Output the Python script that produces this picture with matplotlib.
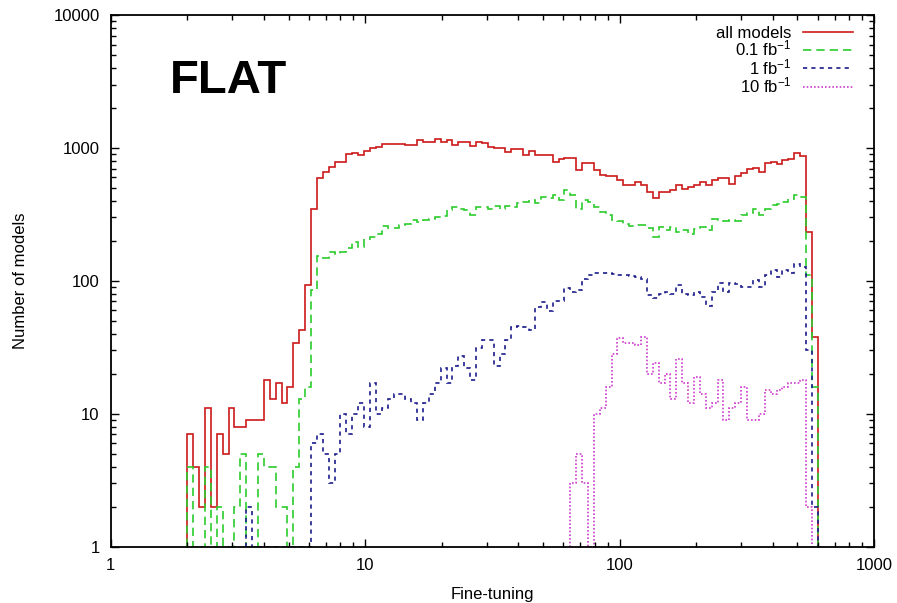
import numpy as np
import matplotlib
matplotlib.use('Agg')
import matplotlib.pyplot as plt
from matplotlib.lines import Line2D
from matplotlib.ticker import LogLocator, FuncFormatter, NullFormatter

plt.rcParams['font.family'] = ['Liberation Sans', 'DejaVu Sans']
plt.rcParams['mathtext.default'] = 'regular'

# log-uniform fine-tuning bins
ft_min, ft_max, n_bins = 2.0, 601.0, 107

# counts per bin
all_models = [
    7, 4, 2, 11, 2, 7, 5, 11, 8, 8,
    9, 9, 9, 18, 13, 17, 12, 16, 34, 43,
    93, 347, 598, 663, 723, 780, 780, 901, 922, 885,
    955, 995, 1023, 1067, 1067, 1067, 1075, 1058, 1058, 1148,
    1115, 1115, 1170, 1115, 1148, 1058, 1115, 1115, 1030, 1115,
    1090, 1020, 1000, 1000, 940, 975, 975, 885, 955, 885,
    885, 885, 790, 830, 840, 840, 680, 765, 765, 680,
    625, 610, 610, 575, 527, 527, 554, 527, 468, 418,
    468, 468, 480, 527, 495, 505, 527, 554, 527, 570,
    592, 592, 540, 610, 646, 690, 703, 660, 765, 790,
    755, 810, 820, 913, 870, 233, 38,
]
lumi_01 = [
    4, 0, 0, 4, 0, 2, 0, 0, 2, 5,
    0, 0, 5, 4, 4, 2, 2, 0, 4, 13,
    16, 86, 154, 148, 165, 160, 165, 176, 197, 180,
    208, 212, 226, 259, 250, 250, 264, 270, 288, 275,
    288, 290, 302, 310, 342, 362, 345, 340, 314, 362,
    358, 350, 365, 345, 365, 358, 387, 392, 406, 385,
    430, 420, 440, 406, 483, 440, 345, 406, 395, 362,
    330, 314, 288, 280, 270, 258, 262, 262, 250, 215,
    255, 240, 255, 235, 240, 226, 245, 255, 241, 290,
    288, 282, 288, 282, 314, 322, 350, 314, 350, 370,
    380, 393, 410, 440, 430, 111, 16,
]
lumi_1 = [
    0, 0, 0, 0, 0, 0, 0, 0, 0, 0,
    2, 0, 0, 0, 0, 0, 0, 0, 0, 0,
    0, 6, 7, 5, 3, 5, 10, 7, 10, 12,
    8, 17, 10, 11, 13, 14, 14, 13, 12, 9,
    12, 14, 17, 22, 17, 23, 27, 22, 18, 31,
    36, 36, 23, 28, 36, 45, 46, 45, 43, 64,
    69, 59, 70, 70, 88, 82, 85, 104, 110, 115,
    115, 114, 112, 110, 110, 108, 106, 104, 78, 74,
    80, 82, 79, 93, 80, 78, 82, 76, 65, 82,
    96, 82, 96, 94, 90, 90, 101, 90, 110, 120,
    106, 120, 115, 135, 128, 30, 2,
]
lumi_10 = [
    0, 0, 0, 0, 0, 0, 0, 0, 0, 0,
    0, 0, 0, 0, 0, 0, 0, 0, 0, 0,
    0, 0, 0, 0, 0, 0, 0, 0, 0, 0,
    0, 0, 0, 0, 0, 0, 0, 0, 0, 0,
    0, 0, 0, 0, 0, 0, 0, 0, 0, 0,
    0, 0, 0, 0, 0, 0, 0, 0, 0, 0,
    0, 0, 0, 0, 0, 3, 5, 3, 0, 10,
    11, 16, 28, 37, 34, 34, 33, 38, 20, 24,
    17, 20, 13, 26, 17, 12, 19, 14, 11, 12,
    18, 9, 11, 12, 16, 9, 9, 10, 15, 14,
    15, 16, 17, 17, 18, 2, 0,
]

labels = ['all models', '0.1 fb$^{-1}$', '1 fb$^{-1}$', '10 fb$^{-1}$']
colors = ['#cc1a1a', '#2ccc2c', '#1c1c8c', '#cc3ccc']
styles = ['-', (0, (5, 3)), (0, (2.5, 2.5)), (0, (1, 1.2))]

edges = np.logspace(np.log10(ft_min), np.log10(ft_max), n_bins + 1)

fig = plt.figure(figsize=(8.97, 6.03), dpi=100)
ax = fig.add_axes([0.1234, 0.0934, 0.851, 0.8817])

handles = []
series = [all_models, lumi_01, lumi_1, lumi_10]
for vals, col, ls, lab in zip(series, colors, styles, labels):
    v = np.asarray(vals, dtype=float)
    nz = np.nonzero(v)[0]
    a, b = nz[0], nz[-1]
    sub = np.where(v[a:b + 1] > 0, v[a:b + 1], 1.0)
    ax.stairs(sub, edges[a:b + 2], baseline=1, color=col, linestyle=ls,
              linewidth=1.2, fill=False)
    handles.append(Line2D([], [], color=col, linestyle=ls, linewidth=1.2, label=lab))

ax.set_xscale('log')
ax.set_yscale('log')
ax.set_xlim(1, 1000)
ax.set_ylim(1, 10000)

fmt = FuncFormatter(lambda v, p: '%d' % round(v))
for axis in (ax.xaxis, ax.yaxis):
    axis.set_major_locator(LogLocator(base=10))
    axis.set_minor_locator(LogLocator(base=10, subs=np.arange(2, 10)))
    axis.set_major_formatter(fmt)
    axis.set_minor_formatter(NullFormatter())

ax.tick_params(which='both', direction='in', top=True, right=True, labelsize=12)
ax.tick_params(which='major', length=6, width=1, pad=8)
ax.tick_params(which='minor', length=3.5, width=1)
for sp in ax.spines.values():
    sp.set_linewidth(1.3)

ax.set_xlabel('Fine-tuning', fontsize=12, labelpad=10)
ax.set_ylabel('Number of models', fontsize=12, labelpad=18)

ax.text(0.078, 0.853, 'FLAT', transform=ax.transAxes, fontsize=34,
        fontweight='bold', ha='left', va='baseline')

ax.legend(handles=handles, loc='upper right', bbox_to_anchor=(0.9725, 0.980),
          frameon=False, markerfirst=False, fontsize=12, handlelength=3.0,
          handletextpad=0.7, labelspacing=-0.1, borderpad=0, borderaxespad=0)

fig.savefig('out.png', dpi=100)
